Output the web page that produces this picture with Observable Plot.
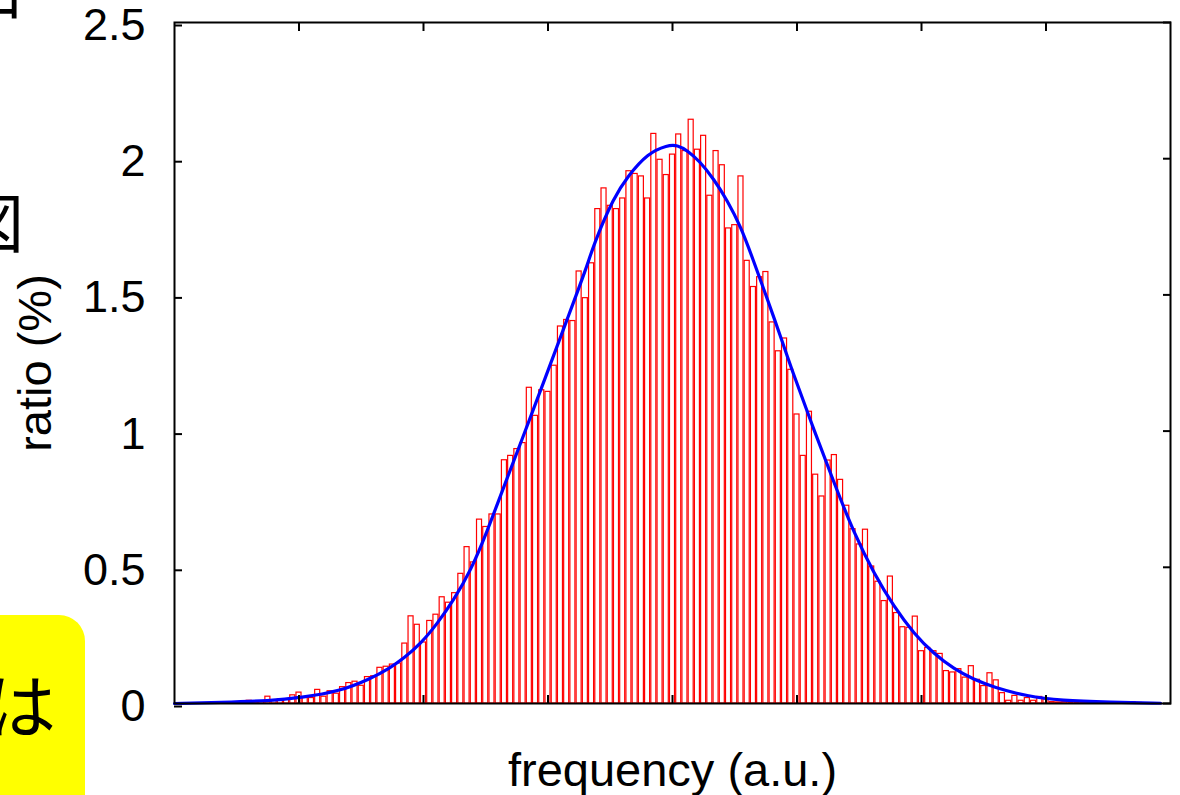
<!DOCTYPE html>
<html><head><meta charset="utf-8">
<script src="https://cdn.jsdelivr.net/npm/d3@7"></script>
<script src="https://cdn.jsdelivr.net/npm/@observablehq/plot@0.6"></script>
<style>
html,body{margin:0;padding:0;background:#fff;}
#wrap{position:relative;width:1180px;height:795px;overflow:hidden;background:#fff;}
#chart{position:absolute;left:0;top:0;}
.jp{position:absolute;font-family:"Noto Sans CJK JP",sans-serif;line-height:1;color:#000;white-space:nowrap;}
#note{position:absolute;left:-40px;top:615px;width:125px;height:240px;background:#ffff00;border-radius:26px;}
</style></head><body>
<div id="wrap"><div id="chart"></div>
<div class="jp" style="font-size:60px;left:-36px;top:-41px;">口</div>
<div class="jp" style="font-size:64px;left:-40px;top:187px;">図</div>
<div id="note"></div>
<div class="jp" style="font-size:70px;left:-14px;top:668px;">は</div>
</div>
<script>
// histogram: ratio (%) per bin, bin k centred at k * binWidth
const binWidth = 0.05;
const ratio = [
  0,0,0,0,0,0,0,0,0,0,
  0.004,0,0.01,0.005,0.008,0.025,0.01,0.015,0.015,0.03,
  0.04,0.02,0.02,0.05,0.025,0.045,0.036,0.06,0.075,0.08,
  0.065,0.097,0.1,0.131,0.135,0.143,0.147,0.22,0.32,0.289,
  0.224,0.303,0.326,0.39,0.37,0.405,0.476,0.574,0.518,0.675,
  0.648,0.694,0.694,0.893,0.909,0.934,0.956,1.159,1.056,1.15,
  1.144,1.24,1.384,1.408,1.404,1.586,1.488,1.616,1.815,1.891,
  1.827,1.815,1.854,1.954,1.944,1.935,1.854,2.091,1.996,1.94,
  2.015,2.089,2.028,2.143,2.033,2.084,1.864,2.028,1.976,1.744,
  1.756,1.935,1.625,1.529,1.565,1.584,1.399,1.293,1.34,1.225,
  1.061,0.909,1.071,0.84,0.76,0.892,0.912,0.821,0.726,0.64,
  0.584,0.638,0.503,0.447,0.376,0.466,0.332,0.28,0.278,0.319,
  0.192,0.204,0.192,0.182,0.119,0.114,0.126,0.095,0.137,0.087,
  0.064,0.111,0.085,0.038,0.01,0.028,0.01,0.02,0.01,0.024,
  0.015,0.005,0.004,0.005,0.003,0.002,0.003,0.004,0.005,0.002,
  0,0.003,0.005,0.004,0.005,0.002,0,0,0,0
];
// fitted curve, points
const fitX = [0,0.37,0.77,1.01,1.33,1.57,1.73,1.84,1.98,2.11,2.24,2.38,2.51,2.64,2.78,2.99,3.15,3.31,3.37,3.53,3.64,3.80,3.96,4.04,4.12,4.22,4.33,4.44,4.55,4.65,4.75,4.87,4.97,5.14,5.30,5.46,5.62,5.78,5.94,6.10,6.26,6.42,6.58,6.85,7.12,7.52,7.92];
const fitY = [0,0.004,0.01,0.021,0.045,0.09,0.13,0.165,0.221,0.293,0.378,0.488,0.63,0.79,0.955,1.21,1.406,1.60,1.69,1.859,1.935,2.02,2.05,2.05,2.03,1.99,1.926,1.847,1.749,1.626,1.50,1.345,1.21,1.00,0.807,0.623,0.476,0.354,0.256,0.182,0.127,0.088,0.06,0.026,0.011,0.005,0.001];
const xTicks = [1,2,3,4,5,6,7];
const yTicks = [0,0.5,1,1.5,2,2.5];
const yTickLabels = ["0","0.5","1","1.5","2","2.5"];
const xLabel = "frequency (a.u.)";
const yLabel = "ratio (%)";

const bins = ratio.map((v, k) => ({k, v}));
const fit = fitX.map((x, i) => ({x, y: fitY[i]}));

const chart = Plot.plot({
  width: 1180, height: 795,
  marginLeft: 174, marginRight: 10, marginTop: 22, marginBottom: 92,
  style: {fontFamily: '"Liberation Sans", Arial, sans-serif', fontSize: "45px", background: "white", color: "black"},
  x: {domain: [0, 8]},
  y: {domain: [0, 2.5]},
  marks: [
    Plot.rectY(bins, {x1: d => d.k * binWidth - binWidth / 2, x2: d => d.k * binWidth + binWidth / 2, y: "v",
      fill: "none", stroke: "#ff0000", strokeWidth: 1.2, insetLeft: 0.6, insetRight: 0.6, clip: true}),
    Plot.line(fit, {x: "x", y: "y", stroke: "#0000ff", strokeWidth: 3.2, curve: "basis"}),
    Plot.frame({stroke: "black", strokeWidth: 2}),
    Plot.axisY({anchor: "left", ticks: yTicks, tickSize: -8, tickPadding: 37, strokeWidth: 2, dy: 3,
      tickFormat: d => yTickLabels[yTicks.indexOf(d)], label: null}),
    Plot.axisY({anchor: "left", ticks: [], tickSize: 0, fontSize: 47,
      label: yLabel, labelAnchor: "center", labelArrow: "none", labelOffset: 157}),
    Plot.axisY({anchor: "right", ticks: yTicks, tickSize: -8, strokeWidth: 2, fill: "none"}),
    Plot.axisX({anchor: "bottom", ticks: xTicks, tickSize: -8, strokeWidth: 2, fill: "none"}),
    Plot.axisX({anchor: "top", ticks: xTicks, tickSize: -8, strokeWidth: 2, fill: "none"}),
    Plot.axisX({anchor: "bottom", ticks: [], tickSize: 0, fontSize: 47, label: xLabel, labelAnchor: "center", labelArrow: "none", labelOffset: 82})
  ]
});
document.getElementById("chart").appendChild(chart);
</script>
</body></html>
